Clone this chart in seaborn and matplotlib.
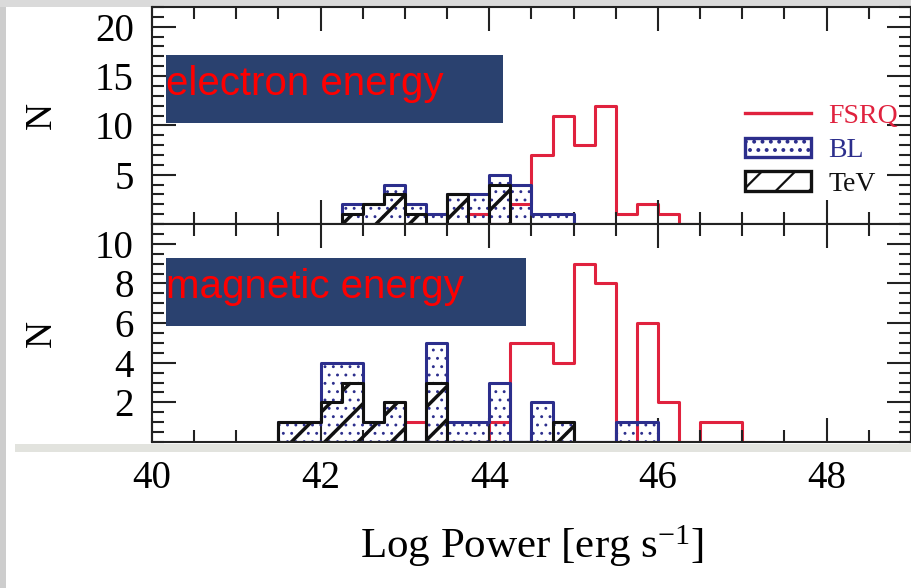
import numpy as np
import seaborn as sns
import matplotlib
matplotlib.use("Agg")
import matplotlib.pyplot as plt
from matplotlib.patches import Rectangle, Patch
from matplotlib.lines import Line2D
from matplotlib.ticker import MultipleLocator, FixedLocator

BIN_WIDTH = 0.25

# electron energy panel (lower edge of first bin + counts per 0.25 bin)
fsrq_e_start = 43.75
fsrq_e_counts = [1, 0, 2, 7, 11, 8, 12, 1, 2, 1, 0]
bl_e_start = 42.25
bl_e_counts = [2, 2, 4, 2, 1, 3, 3, 5, 4, 1, 1]
tev_e_start = 42.25
tev_e_counts = [1, 2, 3, 1, 0, 3, 0, 4]

# magnetic energy panel
fsrq_m_start = 43.0
fsrq_m_counts = [1, 0, 0, 0, 1, 5, 5, 4, 9, 8, 0, 6, 2, 0, 1, 1, 0]
bl_m_start = 41.5
bl_m_counts = [1, 1, 4, 4, 1, 2, 0, 5, 1, 1, 3, 0, 2, 1, 0, 0, 1, 1]
tev_m_start = 41.5
tev_m_counts = [1, 1, 2, 3, 1, 2, 0, 3, 0, 0, 0, 0, 0, 1]

series_labels = ["FSRQ", "BL", "TeV"]
panel_titles = ["electron energy", "magnetic energy"]
x_label = r"Log Power [erg s$^{-1}$]"

RED = "#E0223E"
NAVY = "#2C2E8C"
BLACK = "#111111"
BOX = "#2A416F"

plt.rcParams["font.family"] = ["Liberation Serif", "DejaVu Serif"]
plt.rcParams["mathtext.fontset"] = "custom"
plt.rcParams["mathtext.rm"] = "Liberation Serif"
plt.rcParams["mathtext.it"] = "Liberation Serif:italic"
plt.rcParams["hatch.linewidth"] = 1.6


def hist_step(ax, start, counts, hatch_lw=None, **kws):
    counts = list(counts)
    n = len(counts)
    centers = [start + BIN_WIDTH * (i + 0.5) for i in range(n)]
    with plt.rc_context({"hatch.linewidth": hatch_lw or 1.6}):
        sns.histplot(x=centers, weights=counts, binwidth=BIN_WIDTH,
                     binrange=(start, start + BIN_WIDTH * n), element="step",
                     ax=ax, **kws)
    if hatch_lw and ax.collections:
        art = ax.collections[-1]
        if hasattr(art, "set_hatch_linewidth"):
            art.set_hatch_linewidth(hatch_lw)
        else:
            art._hatch_linewidth = hatch_lw


def draw_panel(ax, fsrq, bl, tev):
    hist_step(ax, *fsrq, fill=False, color=RED, linewidth=2.2, zorder=1.5)
    hist_step(ax, *bl, hatch_lw=0.9, fill=True, color=NAVY, facecolor="none",
              edgecolor=NAVY, hatch="..", linewidth=2.2, zorder=2)
    hist_step(ax, *tev, hatch_lw=2.5, fill=True, color=BLACK, facecolor="none",
              edgecolor=BLACK, hatch="/", linewidth=2.2, zorder=2.2)


def style_axis(ax, ymax, yticks, yminor):
    ax.set_xlim(40, 49)
    ax.set_ylim(0, ymax)
    ax.xaxis.set_major_locator(MultipleLocator(2))
    ax.xaxis.set_minor_locator(MultipleLocator(0.5))
    ax.yaxis.set_major_locator(FixedLocator(yticks))
    ax.yaxis.set_minor_locator(MultipleLocator(yminor))
    ax.tick_params(which="both", direction="in", top=True, right=True,
                   width=1.5, color="#222222", labelsize=28)
    ax.tick_params(which="major", length=17)
    ax.tick_params(which="minor", length=8.5)
    ax.tick_params(axis="y", pad=13)
    ax.tick_params(axis="x", pad=13)
    for s in ax.spines.values():
        s.set_linewidth(1.5)
        s.set_color("#222222")
    ax.set_ylabel("N", fontsize=27)
    ax.yaxis.set_label_coords(-0.123, 0.5)


fig = plt.figure(figsize=(9.12, 5.88), dpi=100)
W, H = 912, 588
ax_top = fig.add_axes([152 / W, (H - 224) / H, 759 / W, 217 / H])
ax_bot = fig.add_axes([152 / W, (H - 442) / H, 759 / W, 218 / H], sharex=ax_top)

draw_panel(ax_top, (fsrq_e_start, fsrq_e_counts), (bl_e_start, bl_e_counts),
           (tev_e_start, tev_e_counts))
draw_panel(ax_bot, (fsrq_m_start, fsrq_m_counts), (bl_m_start, bl_m_counts),
           (tev_m_start, tev_m_counts))

style_axis(ax_top, 22, [5, 10, 15, 20], 1)
style_axis(ax_bot, 11, [2, 4, 6, 8, 10], 0.5)
ax_top.tick_params(labelbottom=False)
ax_top.set_xlabel("")
ax_bot.set_xlabel(x_label, fontsize=31)
ax_bot.xaxis.set_label_coords(0.5, -0.37)

# legend in the top panel
handles = [
    Line2D([], [], color=RED, linewidth=2.4),
    Patch(facecolor="none", edgecolor=NAVY, hatch="..", linewidth=2.4),
    Patch(facecolor="none", edgecolor=BLACK, hatch="/", linewidth=2.4),
]
ax_top.legend(handles, series_labels, loc="upper left",
              bbox_to_anchor=(0.781, 0.555), frameon=False, fontsize=20,
              labelcolor=[RED, NAVY, BLACK], handlelength=2.4,
              handleheight=0.72, handletextpad=0.6, labelspacing=0.3,
              borderpad=0, borderaxespad=0)

# navy label boxes
boxes = [(ax_top, (0.0184, 0.465), 0.4435, 0.314, 0.594),
         (ax_bot, (0.0184, 0.532), 0.475, 0.312, 0.659)]
for (ax, xy, w, h, ybase), title in zip(boxes, panel_titles):
    ax.add_patch(Rectangle(xy, w, h, transform=ax.transAxes, facecolor=BOX,
                           edgecolor="none", zorder=5, clip_on=False))
    ax.text(xy[0], ybase, title, transform=ax.transAxes, color="#FF0000",
            fontsize=29, family=["Liberation Sans", "DejaVu Sans"],
            ha="left", va="baseline", zorder=6)

# slide background around the pasted figure
fig.add_artist(Rectangle((0, 0), 6 / W, 1, transform=fig.transFigure,
                         facecolor="#CDCDCD", edgecolor="none", zorder=-1))
fig.add_artist(Rectangle((0, 1 - 7 / H), 1, 7 / H, transform=fig.transFigure,
                         facecolor="#DADADA", edgecolor="none", zorder=-1))
fig.add_artist(Rectangle((15 / W, (H - 452) / H), 1, 8 / H,
                         transform=fig.transFigure, facecolor="#E2E3DE",
                         edgecolor="none", zorder=-1))

fig.savefig("out.png", dpi=100)
plt.close(fig)
